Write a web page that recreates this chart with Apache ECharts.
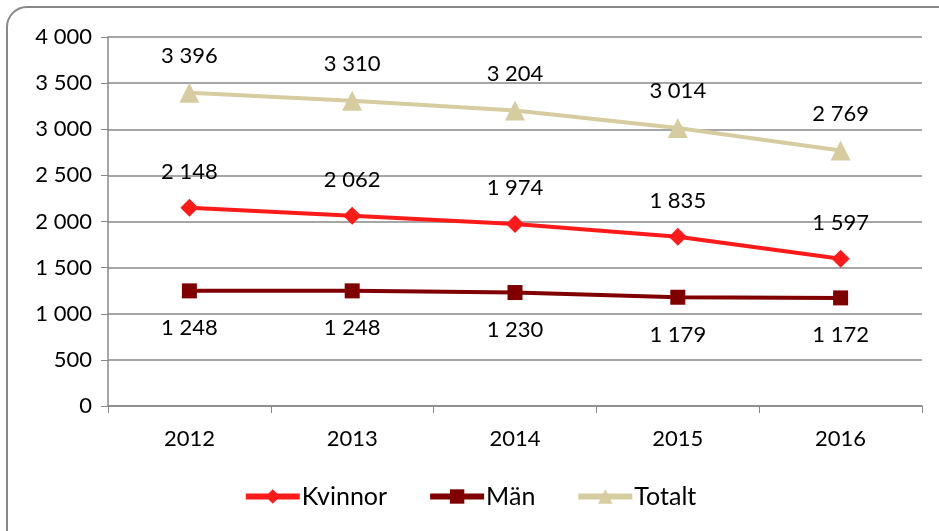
<!DOCTYPE html>
<html lang="sv">
<head>
    <meta charset="UTF-8">
    <title>Kvinnor, Män, Totalt 2012-2016</title>
    <script src="https://cdn.jsdelivr.net/npm/echarts@6/dist/echarts.min.js"></script>
    <style>
        html, body { margin: 0; padding: 0; background: #fff; }
        #main { width: 939px; height: 531px; }
    </style>
</head>
<body>
<div id="main"></div>
<script type="application/javascript">
    // data
    var years = ['2012', '2013', '2014', '2015', '2016'];
    var kvinnor = [2148, 2062, 1974, 1835, 1597];
    var man = [1248, 1248, 1230, 1179, 1172];
    var totalt = [3396, 3310, 3204, 3014, 2769];

    function fmt(v) {
        return String(v).replace(/\B(?=(\d{3})+(?!\d))/g, ' ');
    }

    var font = 'Lato, "Open Sans", sans-serif';
    var myChart = echarts.init(document.getElementById('main'));

    function serie(name, data, color, symbol, size, pos, dist) {
        return {
            name: name,
            type: 'line',
            data: data,
            symbol: symbol,
            symbolSize: size,
            lineStyle: { color: color, width: 4 },
            itemStyle: { color: color },
            label: {
                show: true,
                position: pos,
                distance: dist,
                color: '#000',
                fontSize: 22,
                fontFamily: font,
                formatter: function (p) { return fmt(p.value); }
            }
        };
    }

    var option = {
        animation: false,
        graphic: [{
            type: 'rect',
            shape: { x: 7, y: 7, width: 960, height: 560, r: 20 },
            style: { fill: 'none', stroke: '#888', lineWidth: 2 }
        }],
        grid: { left: 108, right: 17, top: 37, bottom: 125 },
        legend: {
            bottom: 17,
            left: 'center',
            itemGap: 40,
            itemWidth: 54,
            itemHeight: 18,
            lineStyle: { width: 6 },
            textStyle: { fontSize: 25, fontFamily: font, color: '#000', padding: [0, 0, 0, -3] },
            data: ['Kvinnor', 'Män', 'Totalt']
        },
        xAxis: {
            type: 'category',
            data: years,
            boundaryGap: true,
            axisLine: { lineStyle: { color: '#888', width: 1.5 } },
            axisTick: { show: true, length: 7, lineStyle: { color: '#888' } },
            axisLabel: { color: '#000', fontSize: 22, fontFamily: font, margin: 22 }
        },
        yAxis: {
            type: 'value',
            min: 0,
            max: 4000,
            interval: 500,
            axisLine: { show: true, lineStyle: { color: '#888', width: 1.5 } },
            axisTick: { show: true, length: 7, lineStyle: { color: '#888' } },
            splitLine: { lineStyle: { color: '#888', width: 1.5 } },
            axisLabel: {
                color: '#000', fontSize: 22, fontFamily: font, margin: 16,
                formatter: function (v) { return fmt(v); }
            }
        },
        series: [
            serie('Kvinnor', kvinnor, '#ff1a1a', 'diamond', 18, 'top', 16),
            serie('Män', man, '#800000', 'rect', 15, 'bottom', 19),
            serie('Totalt', totalt, '#d6cca0', 'triangle', 20, 'top', 16)
        ]
    };

    myChart.setOption(option);
</script>
</body>
</html>
